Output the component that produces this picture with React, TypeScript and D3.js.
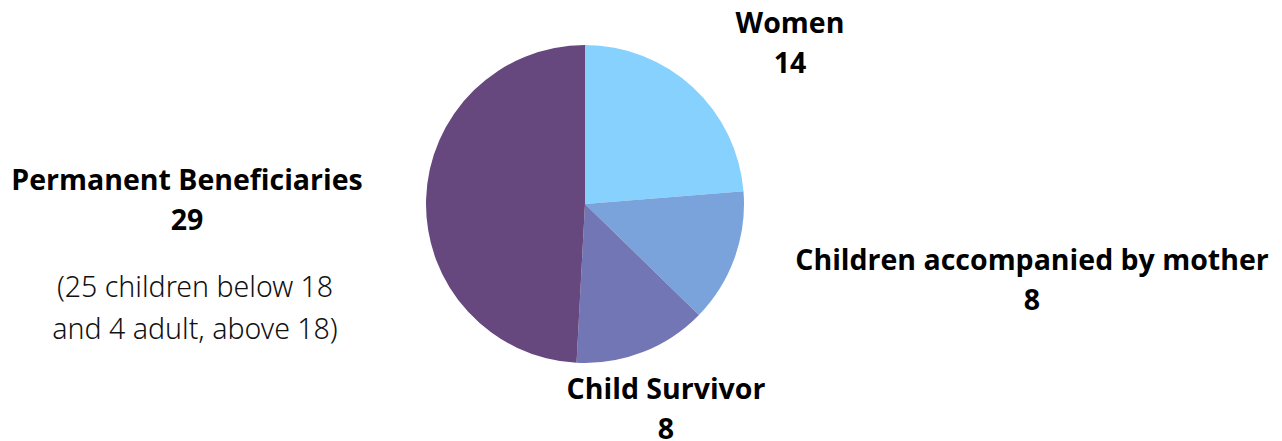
import React from "react";
import * as d3 from "d3";

const categories = ["Women", "Children accompanied by mother", "Child Survivor", "Permanent Beneficiaries"];
const values = [14, 8, 8, 29];
const colors = ["#87D1FE", "#7AA3DB", "#7276B4", "#66487F"];
const noteLines = ["(25 children below 18", "and 4 adult, above 18)"];

const W = 1282;
const H = 441;
const cx = 585;
const cy = 204;
const R = 159;

// label anchors (center x, first baseline y)
const labelPos = [
  { x: 790, y: 33 },
  { x: 1032, y: 270 },
  { x: 666, y: 399 },
  { x: 187, y: 190 },
];

export default function App() {
  const pie = d3.pie<number>().sort(null).value((d) => d);
  const arcs = pie(values);
  const arc = d3.arc<d3.PieArcDatum<number>>().innerRadius(0).outerRadius(R);
  const boldFont = "'Open Sans', 'Noto Sans', sans-serif";
  return (
    <svg width={W} height={H} style={{ position: "absolute", left: 0, top: 0 }}>
      <g transform={`translate(${cx},${cy})`}>
        {arcs.map((a, i) => (
          <path key={i} d={arc(a) || ""} fill={colors[i]} />
        ))}
      </g>
      {categories.map((c, i) => (
        <g key={c} fontFamily={boldFont} fontWeight={700} fontSize={28.5} fill="#000" textAnchor="middle">
          <text x={labelPos[i].x} y={labelPos[i].y}>{c}</text>
          <text x={labelPos[i].x} y={labelPos[i].y + 40}>{values[i]}</text>
        </g>
      ))}
      {noteLines.map((t, i) => (
        <text key={t} x={195} y={297 + i * 42} textAnchor="middle" fontFamily="'Noto Sans', sans-serif" fontWeight={300} fontSize={28.5} fill="#111">
          {t}
        </text>
      ))}
    </svg>
  );
}
